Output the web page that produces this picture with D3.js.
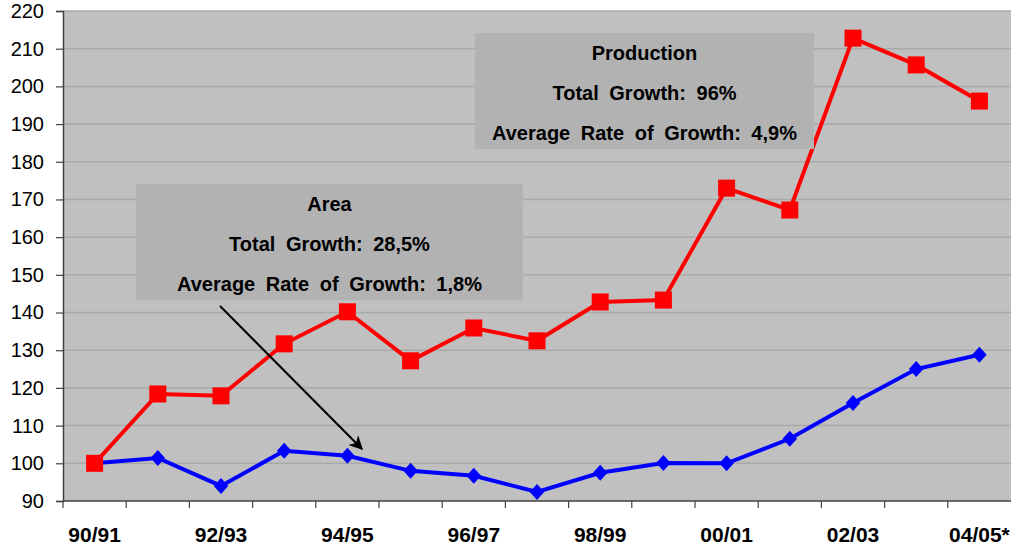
<!DOCTYPE html>
<html>
<head>
<meta charset="utf-8">
<script src="https://cdn.jsdelivr.net/npm/d3@7"></script>
<style>
  body { margin: 0; background: #fff; }
  svg text { font-family: "Liberation Sans", Arial, sans-serif; }
</style>
</head>
<body>
<div id="chart"></div>
<script>
// seasons on the x axis
var seasons = ["90/91","91/92","92/93","93/94","94/95","95/96","96/97","97/98","98/99","99/00","00/01","01/02","02/03","03/04","04/05*"]
// index, 90/91 = 100
var production = [100, 118.4, 117.9, 131.7, 140.2, 127.2, 135.9, 132.5, 142.8, 143.3, 173.0, 167.2, 212.8, 205.7, 196.1]
var area = [100, 101.4, 94.0, 103.3, 102.0, 98.0, 96.7, 92.4, 97.5, 100.1, 100.0, 106.5, 116.0, 125.0, 128.8]
var yTicks = [90,100,110,120,130,140,150,160,170,180,190,200,210,220]
var areaNote = ["Area", "Total Growth: 28,5%", "Average Rate of Growth: 1,8%"]
var prodNote = ["Production", "Total Growth: 96%", "Average Rate of Growth: 4,9%"]

var margin = {top: 11, right: 0, bottom: 49, left: 63},
    width = 1011 - margin.left - margin.right,
    height = 550 - margin.top - margin.bottom;

var svg = d3.select("#chart")
    .append("svg")
    .attr("width", 1011)
    .attr("height", 550)
    .append("g")
    .attr("transform", "translate(" + margin.left + "," + margin.top + ")");

var x = d3.scaleBand()
    .domain(seasons)
    .range([0, width]);

var y = d3.scaleLinear()
    .domain([90, 220])
    .range([height, 0]);

// plot background
svg.append("rect")
    .attr("width", width)
    .attr("height", height)
    .attr("fill", "#c0c0c0");

// gridlines
svg.selectAll(".grid")
    .data(yTicks.slice(1))
    .enter()
    .append("line")
    .attr("x1", 0)
    .attr("x2", width)
    .attr("y1", function(d) { return y(d); })
    .attr("y2", function(d) { return y(d); })
    .attr("stroke", "#a9a9a9")
    .attr("stroke-width", 1.5);

// y axis
var yAxis = svg.append("g")
    .call(d3.axisLeft(y).tickValues(yTicks).tickSize(7).tickPadding(12));
yAxis.selectAll("text").attr("font-size", 20).attr("fill", "#000");
yAxis.selectAll("line").attr("stroke", "#404040").attr("stroke-width", 1.2);
yAxis.select(".domain").attr("stroke", "#404040").attr("stroke-width", 1.5);

// x axis: ticks on category boundaries, labels on every other season
var xAxisG = svg.append("g")
    .attr("transform", "translate(0," + height + ")");
xAxisG.append("line")
    .attr("x1", 0).attr("x2", width)
    .attr("stroke", "#404040").attr("stroke-width", 1.5);
xAxisG.selectAll(".xtick")
    .data(seasons)
    .enter()
    .append("line")
    .attr("x1", function(d) { return x(d); })
    .attr("x2", function(d) { return x(d); })
    .attr("y1", 0).attr("y2", 7)
    .attr("stroke", "#404040").attr("stroke-width", 1.2);
xAxisG.selectAll(".xlabel")
    .data(seasons.filter(function(d, i) { return i % 2 === 0; }))
    .enter()
    .append("text")
    .attr("x", function(d) { return x(d) + x.bandwidth() / 2; })
    .attr("y", 41)
    .attr("text-anchor", "middle")
    .attr("font-size", 21)
    .attr("font-weight", "bold")
    .text(function(d) { return d; });

var line = d3.line()
    .x(function(d, i) { return x(seasons[i]) + x.bandwidth() / 2; })
    .y(function(d) { return y(d); });

// area series (blue diamonds)
svg.append("path")
    .datum(area)
    .attr("fill", "none")
    .attr("stroke", "#0000ff")
    .attr("stroke-width", 4)
    .attr("d", line);
svg.selectAll(".diamond")
    .data(area)
    .enter()
    .append("path")
    .attr("d", d3.symbol().type(d3.symbolDiamond2).size(135))
    .attr("transform", function(d, i) {
        return "translate(" + (x(seasons[i]) + x.bandwidth() / 2) + "," + y(d) + ") scale(1,1.1)";
    })
    .attr("fill", "#0000ff");

// production series (red squares)
svg.append("path")
    .datum(production)
    .attr("fill", "none")
    .attr("stroke", "#ff0000")
    .attr("stroke-width", 4)
    .attr("d", line);
svg.selectAll(".square")
    .data(production)
    .enter()
    .append("rect")
    .attr("x", function(d, i) { return x(seasons[i]) + x.bandwidth() / 2 - 8.5; })
    .attr("y", function(d) { return y(d) - 8.5; })
    .attr("width", 17)
    .attr("height", 17)
    .attr("fill", "#ff0000");

// annotation boxes
function noteBox(lines, bx, by, bw, bh) {
    var g = svg.append("g").attr("transform", "translate(" + bx + "," + by + ")");
    g.append("rect")
        .attr("width", bw)
        .attr("height", bh)
        .attr("fill", "#b2b2b2");
    g.selectAll("text")
        .data(lines)
        .enter()
        .append("text")
        .attr("x", bw / 2)
        .attr("y", function(d, i) { return 27 + i * 40; })
        .attr("text-anchor", "middle")
        .attr("font-size", 20)
        .attr("font-weight", "bold")
        .attr("word-spacing", 5)
        .text(function(d) { return d; });
}
noteBox(areaNote, 136 - margin.left, 184 - margin.top, 387, 116);
noteBox(prodNote, 475 - margin.left, 33 - margin.top, 339, 116);

// arrow from area note to the curve
svg.append("defs").append("marker")
    .attr("id", "arrowhead")
    .attr("viewBox", "0 0 10 10")
    .attr("refX", 9).attr("refY", 5)
    .attr("markerWidth", 7).attr("markerHeight", 7)
    .attr("orient", "auto")
    .append("path")
    .attr("d", "M0,0 L10,5 L0,10 L3,5 Z")
    .attr("fill", "#000");
svg.append("line")
    .attr("x1", 220 - margin.left).attr("y1", 306 - margin.top)
    .attr("x2", 362 - margin.left).attr("y2", 449 - margin.top)
    .attr("stroke", "#000")
    .attr("stroke-width", 2)
    .attr("marker-end", "url(#arrowhead)");
</script>
</body>
</html>
